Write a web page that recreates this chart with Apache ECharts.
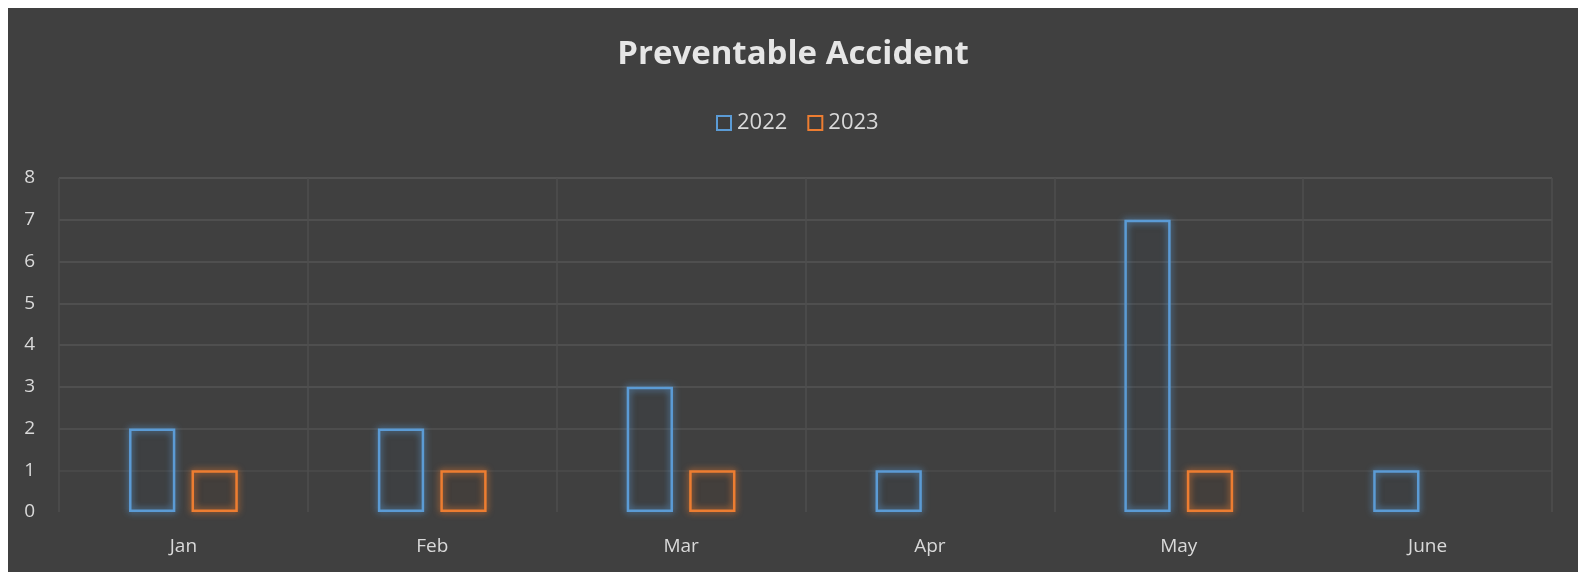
<!DOCTYPE html>
<html>
<head>
<meta charset="utf-8">
<script src="https://cdn.jsdelivr.net/npm/echarts@6/dist/echarts.min.js"></script>
<style>
  html, body { margin: 0; padding: 0; background: #ffffff; width: 1578px; height: 572px; overflow: hidden; }
  #chart { position: absolute; left: 8px; top: 8px; width: 1570px; height: 564px; background: #404040; }
</style>
</head>
<body>
<div id="chart"></div>
<script>
const titleText = 'Preventable Accident';
const categories = ['Jan', 'Feb', 'Mar', 'Apr', 'May', 'June'];
const seriesNames = ['2022', '2023'];
const values2022 = [2, 2, 3, 1, 7, 1];
const values2023 = [1, 1, 1, null, 1, null];
const yTicks = { min: 0, max: 8, interval: 1 };

const colors = ['#5B9BD5', '#ED7D31'];
const font = '"Open Sans", "Noto Sans", sans-serif';

function barSeries(name, data, color) {
  return {
    name: name,
    type: 'bar',
    data: data,
    barWidth: '18.6%',
    barGap: '35%',
    itemStyle: {
      color: 'rgba(0,0,0,0.04)',
      borderColor: color,
      borderWidth: 2.5,
      shadowBlur: 7,
      shadowColor: color
    },
    emphasis: { disabled: true }
  };
}

const chart = echarts.init(document.getElementById('chart'), null, { renderer: 'canvas' });
chart.setOption({
  backgroundColor: '#404040',
  animation: false,
  title: {
    text: titleText,
    left: 'center',
    top: 30,
    padding: 0,
    textStyle: { color: '#e6e6e6', fontFamily: font, fontWeight: 'bold', fontSize: 33 }
  },
  legend: {
    data: seriesNames,
    top: 104,
    left: 708,
    padding: 0,
    itemWidth: 14,
    itemHeight: 14,
    itemGap: 20,
    icon: 'rect',
    textStyle: { color: '#d9d9d9', fontFamily: font, fontSize: 22, padding: [0, 0, 0, 1] },
    itemStyle: { borderWidth: 2, shadowBlur: 0 }
  },
  grid: { left: 51, right: 26, top: 170, bottom: 60 },
  xAxis: {
    type: 'category',
    data: categories,
    axisLine: { show: false },
    axisTick: { show: false },
    axisLabel: { color: '#d9d9d9', fontFamily: font, fontSize: 19, margin: 25 },
    splitLine: { show: true, lineStyle: { color: '#4e4e4e', width: 1.5 } }
  },
  yAxis: {
    type: 'value',
    min: yTicks.min,
    max: yTicks.max,
    interval: yTicks.interval,
    axisLine: { show: false },
    axisTick: { show: false },
    axisLabel: { color: '#d9d9d9', fontFamily: font, fontSize: 19, margin: 24 },
    splitLine: { show: true, lineStyle: { color: ['#404040', '#4b4b4b', '#525252', '#555555', '#555555', '#555555', '#555555', '#555555', '#585858'], width: 1.5 } }
  },
  series: [
    barSeries(seriesNames[0], values2022, colors[0]),
    barSeries(seriesNames[1], values2023, colors[1])
  ]
});
</script>
</body>
</html>
